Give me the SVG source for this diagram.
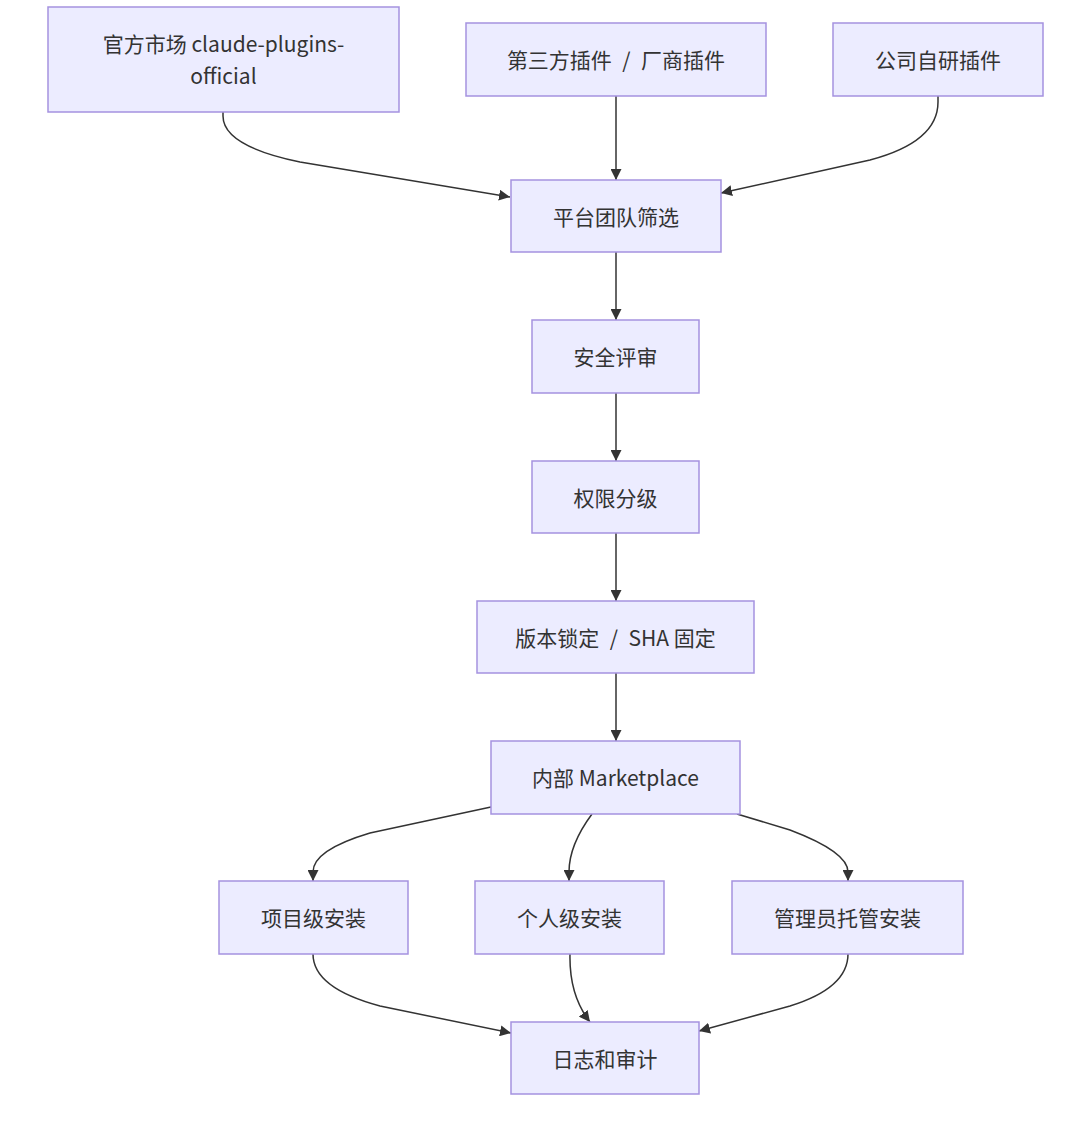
<svg xmlns="http://www.w3.org/2000/svg" width="1070" height="1123" viewBox="0 0 1070 1123">
<style>
.node rect{fill:#ECECFF;stroke:#A592E0;stroke-width:1.5}
.node text{font-family:"Noto Sans CJK SC","Liberation Sans",sans-serif;font-size:21px;fill:#333;text-anchor:middle;dominant-baseline:central}
.edges path{fill:none;stroke:#333;stroke-width:1.5}
</style>
<defs>
<marker id="arr" viewBox="0 0 10 10" refX="10" refY="5" markerWidth="11" markerHeight="11" markerUnits="userSpaceOnUse" orient="auto"><path d="M0,0 L10,5 L0,10 z" fill="#333"/></marker>
</defs>
<rect width="1070" height="1123" fill="#fff"/>
<g class="edges">
<path marker-end="url(#arr)" d="M223,112 L223,116 Q223,146 300,162 L510,197"/>
<path marker-end="url(#arr)" d="M616,96 L616,180"/>
<path marker-end="url(#arr)" d="M938,96 L938,102 Q938,142 870,160 L721,193"/>
<path marker-end="url(#arr)" d="M616,252 L616,320"/>
<path marker-end="url(#arr)" d="M616,393 L616,461"/>
<path marker-end="url(#arr)" d="M616,533 L616,601"/>
<path marker-end="url(#arr)" d="M616,673 L616,741"/>
<path marker-end="url(#arr)" d="M491,807 L370,833 Q313,850 313,872 L313,881"/>
<path marker-end="url(#arr)" d="M592,814 Q569,845 569,872 L569,881"/>
<path marker-end="url(#arr)" d="M737,814 L790,830 Q848,852 848,872 L848,881"/>
<path marker-end="url(#arr)" d="M313,954 Q313,988 380,1006 L511,1033"/>
<path marker-end="url(#arr)" d="M570,954 Q569,995 590,1022"/>
<path marker-end="url(#arr)" d="M848,954 Q848,988 790,1006 L699,1031"/>
</g>
<g id="n_official" class="node"><rect x="48" y="7" width="351" height="105"/><text x="223.5" y="43">官方市场 claude-plugins-</text><text x="223.5" y="75">official</text></g>
<g id="n_third" class="node"><rect x="466" y="23" width="300" height="73"/><text x="616" y="59">第三方插件&#8194;/&#8194;厂商插件</text></g>
<g id="n_company" class="node"><rect x="833" y="23" width="210" height="73"/><text x="938" y="59">公司自研插件</text></g>
<g id="n_filter" class="node"><rect x="511" y="180" width="210" height="72"/><text x="616" y="215.5">平台团队筛选</text></g>
<g id="n_security" class="node"><rect x="532" y="320" width="167" height="73"/><text x="615.5" y="356">安全评审</text></g>
<g id="n_perm" class="node"><rect x="532" y="461" width="167" height="72"/><text x="615.5" y="496.5">权限分级</text></g>
<g id="n_version" class="node"><rect x="477" y="601" width="277" height="72"/><text x="615.5" y="636.5">版本锁定&#8194;/&#8194;SHA 固定</text></g>
<g id="n_market" class="node"><rect x="491" y="741" width="249" height="73"/><text x="615.5" y="777">内部 Marketplace</text></g>
<g id="n_project" class="node"><rect x="219" y="881" width="189" height="73"/><text x="313.5" y="917">项目级安装</text></g>
<g id="n_personal" class="node"><rect x="475" y="881" width="189" height="73"/><text x="569.5" y="917">个人级安装</text></g>
<g id="n_admin" class="node"><rect x="732" y="881" width="231" height="73"/><text x="847.5" y="917">管理员托管安装</text></g>
<g id="n_audit" class="node"><rect x="511" y="1022" width="188" height="72"/><text x="605" y="1057.5">日志和审计</text></g>
</svg>
